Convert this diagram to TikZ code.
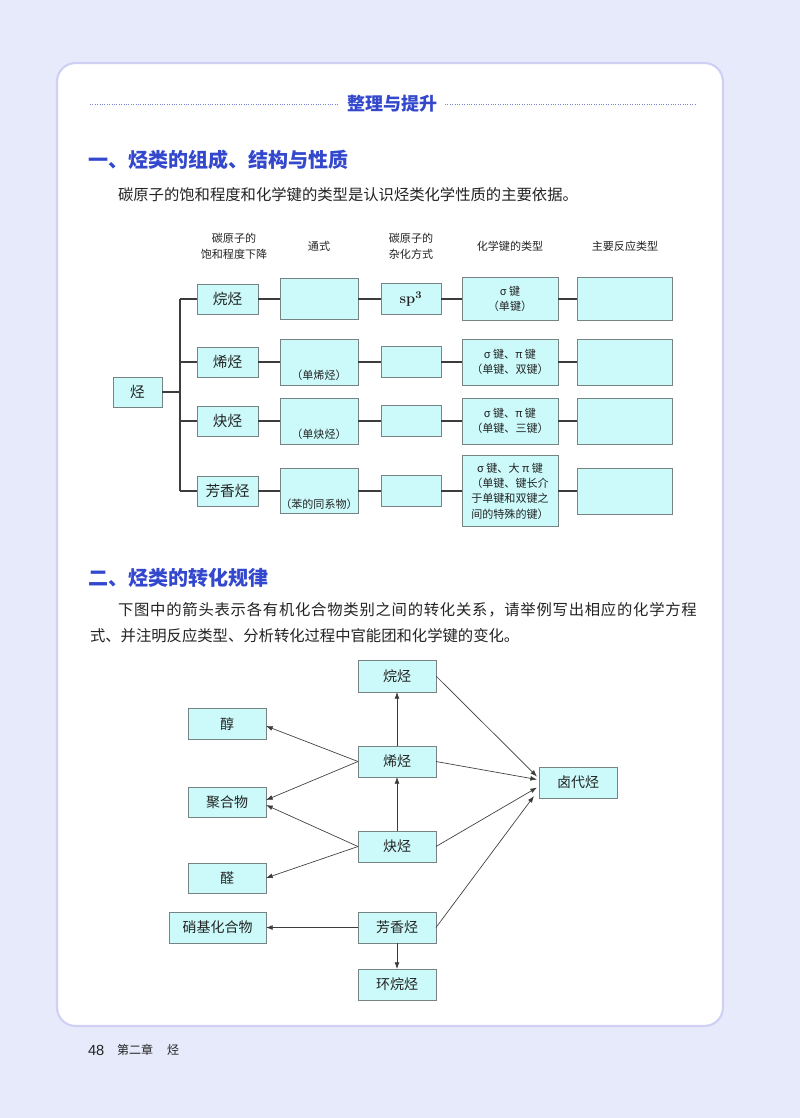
\documentclass[tikz,border=0pt]{standalone}
\usepackage{fontspec}
\newfontfamily\cjk{Noto Sans CJK SC}
\newfontfamily\arialf{Liberation Sans}
\usetikzlibrary{arrows.meta,calc}
\definecolor{pagebg}{RGB}{230,234,250}
\definecolor{panelline}{RGB}{208,208,244}
\definecolor{titleblue}{RGB}{52,72,205}
\definecolor{dotblue}{RGB}{120,130,210}
\definecolor{boxfill}{RGB}{204,250,250}
\definecolor{boxline}{RGB}{120,132,132}
\definecolor{txt}{RGB}{35,35,35}
\definecolor{conn}{RGB}{60,60,60}
\begin{document}
\begin{tikzpicture}[x=0.75pt,y=-0.75pt,
  every node/.style={inner sep=0pt,outer sep=0pt,text=txt},
  tbox/.style 2 args={draw=boxline,fill=boxfill,line width=0.7pt,minimum width=#1*0.75pt,minimum height=#2*0.75pt,align=center},
  catf/.style={font=\cjk\fontsize{11}{13}\selectfont},
  smallf/.style={font=\cjk\fontsize{8.3}{11.5}\selectfont},
  colh/.style={font=\cjk\fontsize{8.3}{12}\selectfont,align=center},
  sect/.style={font=\cjk\bfseries\fontsize{15}{17}\selectfont,text=titleblue},
  body/.style={font=\cjk\fontsize{11.5}{13}\selectfont},
  dfont/.style={font=\cjk\fontsize{10.5}{12}\selectfont},
  dotline/.style={dotblue,line width=0.5pt,dash pattern=on 0.6pt off 1.2pt},
  tline/.style={conn,line width=0.8pt},
  arr/.style={conn,line width=0.5pt,-{Latex[length=5pt,width=3.6pt]}}
]
\useasboundingbox (0,0) rectangle (800,1118);
\fill[pagebg] (0,0) rectangle (800,1118);
\draw[panelline,line width=1.6pt,fill=white,rounded corners=14pt] (57,63) rectangle (723,1026);

% header
\node[font=\cjk\bfseries\fontsize{13.5}{15}\selectfont,text=titleblue] (hdr) at (392,104) {整理与提升};
\coordinate (dl1) at (90,104);
\coordinate (dr2) at (695,104);
\draw[dotline] (dl1) -- ($(hdr.west)+(-8,0)$);
\draw[dotline] ($(hdr.east)+(8,0)$) -- (dr2);

% section 1
\node[anchor=west,sect] (s1) at (88,160) {一、烃类的组成、结构与性质};
\node[anchor=west,body] (p1) at (118,195) {碳原子的饱和程度和化学键的类型是认识烃类化学性质的主要依据。};

\node[colh] (h1) at (234,246) {碳原子的\\饱和程度下降};
\node[colh] (h2) at (319,246) {通式};
\node[colh] (h3) at (411,246) {碳原子的\\杂化方式};
\node[colh] (h4) at (510,246) {化学键的类型};
\node[colh] (h5) at (625,246) {主要反应类型};

% table
\node[tbox={49}{30},catf] (hc) at (137.5,392) {烃};

\node[tbox={61}{30},catf] (a1) at (227.5,299) {烷烃};
\node[tbox={78}{41}] (b1) at (319,299) {};
\node[tbox={60}{31}] (c1) at (411,299) {\normalfont\bfseries\fontsize{11}{12}\selectfont sp\textsuperscript{3}};
\node[tbox={96}{43},smallf] (d1) at (510,299) {σ 键\\（单键）};
\node[tbox={95}{43}] (e1) at (624.5,299) {};

\node[tbox={61}{30},catf] (a2) at (227.5,362) {烯烃};
\node[tbox={78}{46}] (b2) at (319,362) {};
\node[anchor=south,smallf] (b2t) at ($(b2.south)+(0,-4)$) {（单烯烃）};
\node[tbox={60}{31}] (c2) at (411,362) {};
\node[tbox={96}{46},smallf] (d2) at (510,362) {σ 键、π 键\\（单键、双键）};
\node[tbox={95}{46}] (e2) at (624.5,362) {};

\node[tbox={61}{30},catf] (a3) at (227.5,421) {炔烃};
\node[tbox={78}{46}] (b3) at (319,421) {};
\node[anchor=south,smallf] (b3t) at ($(b3.south)+(0,-4)$) {（单炔烃）};
\node[tbox={60}{31}] (c3) at (411,421) {};
\node[tbox={96}{46},smallf] (d3) at (510,421) {σ 键、π 键\\（单键、三键）};
\node[tbox={95}{46}] (e3) at (624.5,421) {};

\node[tbox={61}{30},catf] (a4) at (227.5,491) {芳香烃};
\node[tbox={78}{45}] (b4) at (319,491) {};
\node[anchor=south,smallf] (b4t) at ($(b4.south)+(0,-4)$) {（苯的同系物）};
\node[tbox={60}{31}] (c4) at (411,491) {};
\node[tbox={96}{71},smallf] (d4) at (510,491) {σ 键、大 π 键\\（单键、键长介\\于单键和双键之\\间的特殊的键）};
\node[tbox={95}{46}] (e4) at (624.5,491) {};

\coordinate (jx) at (180,392);
\draw[tline] (hc.east) -- (jx);
\draw[tline] (jx |- a1.west) -- (jx |- a4.west);
\foreach \r in {1,2,3,4}{
  \draw[tline] (jx |- a\r.west) -- (a\r.west);
  \draw[tline] (a\r.east) -- (b\r.west);
  \draw[tline] (b\r.east) -- (c\r.west);
  \draw[tline] (c\r.east) -- (d\r.west);
  \draw[tline] (d\r.east) -- (e\r.west);
}

% section 2
\node[anchor=west,sect] (s2) at (88,578) {二、烃类的转化规律};
\node[anchor=west,body] (p2a) at (118,610) {\addfontfeatures{LetterSpace=5}下图中的箭头表示各有机化合物类别之间的转化关系，请举例写出相应的化学方程};
\node[anchor=west,body] (p2b) at (90,636) {式、并注明反应类型、分析转化过程中官能团和化学键的变化。};

% diagram
\node[tbox={78}{32},dfont] (alk) at (397,676) {烷烃};
\node[tbox={78}{31},dfont] (alc) at (227,724) {醇};
\node[tbox={78}{31},dfont] (ene) at (397,761.5) {烯烃};
\node[tbox={78}{31},dfont] (hal) at (578,782.5) {卤代烃};
\node[tbox={78}{30},dfont] (pol) at (227,802) {聚合物};
\node[tbox={78}{31},dfont] (yne) at (397,846.5) {炔烃};
\node[tbox={78}{30},dfont] (ald) at (227,878) {醛};
\node[tbox={97}{31},dfont] (nit) at (217.5,927.5) {硝基化合物};
\node[tbox={78}{31},dfont] (aro) at (397,927.5) {芳香烃};
\node[tbox={78}{31},dfont] (cyc) at (397,984.5) {环烷烃};

\draw[arr] (ene.north) -- (alk.south);
\draw[arr] (yne.north) -- (ene.south);
\draw[arr] (alk.east) -- ($(hal.west)+(-2,-6)$);
\draw[arr] (ene.east) -- ($(hal.west)+(-2,-3)$);
\draw[arr] (yne.east) -- ($(hal.west)+(-2,5)$);
\draw[arr] (aro.east) -- ($(hal.south west)+(-5,-2)$);
\draw[arr] (ene.west) -- ($(alc.east)+(0,2)$);
\draw[arr] (ene.west) -- ($(pol.east)+(0,-2)$);
\draw[arr] (yne.west) -- ($(pol.east)+(0,3)$);
\draw[arr] (yne.west) -- (ald.east);
\draw[arr] (aro.west) -- (nit.east);
\draw[arr] (aro.south) -- (cyc.north);

% footer
\node[anchor=west,font=\arialf\fontsize{11}{12}\selectfont] (pg) at (88,1050) {48};
\node[anchor=west,font=\cjk\fontsize{9}{10}\selectfont] (ch) at (117,1050) {第二章};
\node[anchor=west,font=\cjk\fontsize{9}{10}\selectfont] (cht) at (167,1050) {烃};
\end{tikzpicture}
\end{document}
